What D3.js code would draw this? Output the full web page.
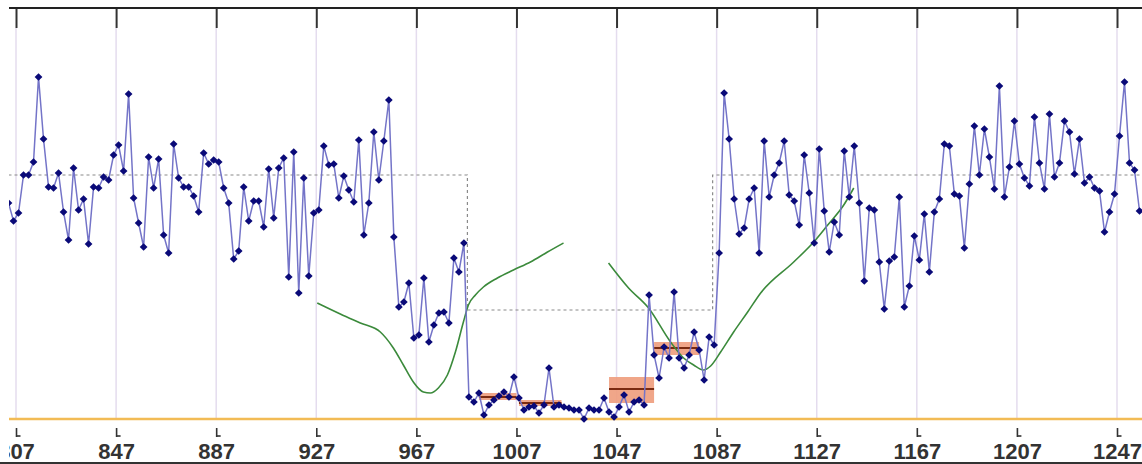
<!DOCTYPE html>
<html lang="en">
<head>
<meta charset="UTF-8">
<title>Series chart</title>
<script src="https://d3js.org/d3.v7.min.js"></script>
<style>
  body { margin: 0; background: #fff; }
  svg { display: block; }
</style>
</head>
<body>
<div id="chart"></div>
<script>
// tick labels along the day axis
var tickDays = [807, 847, 887, 927, 967, 1007, 1047, 1087, 1127, 1167, 1207, 1247];

// observed series: one value every 2 days, first one at day 804
var firstDay = 804, dayStep = 2;
var values = [
  21.6, 19.8, 20.6, 24.4, 24.4, 25.7, 34.2, 28.0, 23.2, 23.1,
  24.6, 20.7, 17.9, 25.1, 20.9, 22.0, 17.5, 23.2, 23.1, 24.2,
  23.9, 26.4, 27.4, 24.8, 32.5, 22.1, 19.6, 17.2, 26.2, 23.1,
  26.0, 18.4, 16.6, 27.5, 24.1, 23.2, 23.2, 22.3, 20.7, 26.6,
  25.5, 25.9, 25.7, 23.1, 21.6, 16.0, 16.8, 23.2, 19.8, 21.8,
  21.8, 19.2, 25.0, 20.1, 25.1, 26.1, 14.2, 26.7, 12.6, 24.1,
  14.3, 20.6, 20.9, 27.3, 25.4, 25.5, 22.1, 24.3, 22.9, 21.7,
  27.9, 18.4, 21.6, 28.7, 23.9,
  27.8, 31.9, 18.2, 11.2, 11.7, 13.6, 8.1, 8.4, 14.1, 7.7,
  9.4, 10.6, 10.7, 9.6, 16.1, 14.7, 17.6,
  2.2, 1.7, 2.6, 0.4, 1.4, 1.9, 2.3, 2.7, 2.2, 4.2,
  2.1, 0.9, 1.2, 1.3, 0.6, 1.4, 5.1, 1.2, 1.4, 1.2,
  1.1, 0.9, 0.9, 0.0, 1.1, 0.9, 0.9, 2.1, 0.7, 0.2,
  1.2, 2.4, 0.7, 1.7, 1.9, 1.4, 12.4, 6.4, 4.1, 7.2,
  6.1, 12.7, 6.1, 5.1, 6.4, 8.7, 6.9, 3.9, 8.2, 7.4,
  16.6, 32.6, 28.0, 22.0, 18.5, 19.1, 22.0, 23.1, 16.6,
  27.8, 22.2, 24.4, 25.6, 27.8, 22.4, 21.8, 19.4, 26.4, 22.6,
  17.6, 27.0, 20.8, 16.7, 19.7, 18.4, 26.8, 22.2, 27.3, 21.6,
  13.8, 21.1, 20.9, 15.7, 11.0, 15.8, 16.2, 22.2, 11.2, 13.3,
  18.3, 15.9, 20.5, 14.7, 20.7, 22.0, 27.5, 27.3, 22.5, 22.3,
  17.1, 23.5, 29.3, 24.4, 29.0, 26.2, 23.0, 33.3, 22.2, 25.2,
  29.8, 25.5, 24.1, 23.3, 30.2, 25.6, 23.0, 30.5, 24.2, 25.6,
  29.8, 28.7, 24.5, 28.0, 23.6, 24.2, 23.1, 22.8, 18.7, 20.7,
  22.5, 28.3, 33.7, 25.6, 24.9, 20.8
];

// dashed reference level (step line)
var refDays = [804, 987.4, 1085.4, 1257];
var refLevels = [24.4, 10.9, 24.4, 24.4];

// shaded segments with their mean line
var segStart = [992, 1008, 1044, 1062];
var segEnd = [1007, 1025, 1062, 1080];
var segLow = [1.9, 1.3, 1.6, 6.4];
var segHigh = [2.6, 1.9, 4.2, 7.7];
var segMean = [2.2, 1.6, 3.0, 7.1];

// green curves
var fitADays = [927.4, 936.6, 944.6, 952.6, 957.8, 961.8, 965.8, 969.8, 972.6, 975.8, 979.4,
                982.6, 985.8, 987.8, 990.6, 993.8, 999.4, 1005.8, 1012.6, 1019.4, 1025.8];
var fitAValues = [11.6, 10.5, 9.6, 8.7, 7.1, 5.4, 3.7, 2.7, 2.6, 3.1, 4.4,
                  6.7, 9.7, 11.4, 12.4, 13.2, 14.1, 14.9, 15.7, 16.7, 17.6];
var fitBDays = [1043.8, 1051.8, 1059.8, 1068.6, 1073.8, 1077.8, 1081.8, 1084.6, 1088.6,
                1093.8, 1099.4, 1104.6, 1117.8, 1125.8, 1131.4, 1137.8, 1141.8];
var fitBValues = [15.6, 13.1, 11.1, 7.7, 6.1, 5.4, 4.9, 5.3, 6.7,
                  8.7, 10.7, 12.6, 15.7, 17.7, 19.4, 21.4, 23.1];

var width = 1142, height = 464;

var x = d3.scaleLinear().domain([807, 1247]).range([16, 1117]);
var y = d3.scaleLinear().domain([0, 39.1]).range([419, 28]);

var svg = d3.select("#chart").append("svg")
    .attr("width", width)
    .attr("height", height);

svg.append("clipPath").attr("id", "clip")
  .append("rect").attr("x", 9).attr("y", 0).attr("width", width - 9).attr("height", height);

var g = svg.append("g").attr("clip-path", "url(#clip)");

// vertical grid lines
g.selectAll(".grid").data(tickDays).enter().append("line")
  .attr("x1", function(d) { return x(d); })
  .attr("x2", function(d) { return x(d); })
  .attr("y1", y(39.1)).attr("y2", y(0))
  .attr("stroke", "#e4dcee").attr("stroke-width", 1.5);

// top axis: long ticks hanging from the frame line, no labels
var topAxis = g.append("g").attr("transform", "translate(0,8)")
  .call(d3.axisBottom(x).tickValues(tickDays).tickSize(20).tickFormat("").tickSizeOuter(0));
topAxis.select(".domain").remove();
topAxis.selectAll(".tick line").attr("stroke", "#333").attr("stroke-width", 2);
g.append("line").attr("x1", 0).attr("x2", width).attr("y1", 8).attr("y2", 8)
  .attr("stroke", "#222").attr("stroke-width", 2);

// shaded segments
var segs = d3.range(segStart.length);
g.selectAll(".seg").data(segs).enter().append("rect")
  .attr("x", function(i) { return x(segStart[i]); })
  .attr("width", function(i) { return x(segEnd[i]) - x(segStart[i]); })
  .attr("y", function(i) { return y(segHigh[i]); })
  .attr("height", function(i) { return y(segLow[i]) - y(segHigh[i]); })
  .attr("fill", "#ee9c7c").attr("opacity", 0.9);
g.selectAll(".segmean").data(segs).enter().append("line")
  .attr("x1", function(i) { return x(segStart[i]); })
  .attr("x2", function(i) { return x(segEnd[i]); })
  .attr("y1", function(i) { return y(segMean[i]); })
  .attr("y2", function(i) { return y(segMean[i]); })
  .attr("stroke", "#7a2a10").attr("stroke-width", 2);

// dashed reference
var refPts = refDays.map(function(d, i) { return [d, refLevels[i]]; });
g.append("path").datum(refPts)
  .attr("d", d3.line().x(function(d) { return x(d[0]); }).y(function(d) { return y(d[1]); })
    .curve(d3.curveStepAfter))
  .attr("fill", "none").attr("stroke", "#8a8a8a").attr("stroke-width", 1.2)
  .attr("stroke-dasharray", "3,3");

// green curves
var fitLine = d3.line().x(function(d) { return x(d[0]); }).y(function(d) { return y(d[1]); })
  .curve(d3.curveMonotoneX);
[[fitADays, fitAValues], [fitBDays, fitBValues]].forEach(function(c) {
  var cp = c[0].map(function(d, i) { return [d, c[1][i]]; });
  g.append("path").datum(cp).attr("d", fitLine)
    .attr("fill", "none").attr("stroke", "#3b8a3b").attr("stroke-width", 1.6);
});

// orange baseline
g.append("line").attr("x1", 0).attr("x2", width)
  .attr("y1", y(0)).attr("y2", y(0))
  .attr("stroke", "#f2bb55").attr("stroke-width", 2.5);

// observed series
var pts = values.map(function(v, i) { return [firstDay + i * dayStep, v]; });
g.append("path").datum(pts)
  .attr("d", d3.line().x(function(d) { return x(d[0]); }).y(function(d) { return y(d[1]); }))
  .attr("fill", "none").attr("stroke", "#7474c8").attr("stroke-width", 1.5);

var marker = d3.symbol().type(d3.symbolSquare).size(30);
g.selectAll(".pt").data(pts).enter().append("path")
  .attr("d", marker)
  .attr("transform", function(d) { return "translate(" + x(d[0]) + "," + y(d[1]) + ") rotate(45)"; })
  .attr("fill", "#0a0a78");

// bottom axis: small hooked ticks and bold labels
var bottom = g.append("g").attr("transform", "translate(0,428)")
  .call(d3.axisBottom(x).tickValues(tickDays).tickSize(9).tickSizeOuter(0)
    .tickFormat(d3.format("d")));
bottom.select(".domain").remove();
bottom.selectAll(".tick line").attr("stroke", "#333").attr("stroke-width", 1.6);
bottom.selectAll(".tick").append("line")
  .attr("x1", 0).attr("x2", 4).attr("y1", 8).attr("y2", 8)
  .attr("stroke", "#333").attr("stroke-width", 1.6);
bottom.selectAll(".tick text")
  .attr("y", 31).attr("dy", null)
  .attr("fill", "#333")
  .style("font-family", "'Liberation Sans', Arial, sans-serif")
  .style("font-size", "22px")
  .style("font-weight", "bold");

// bottom frame line
svg.append("line").attr("x1", 0).attr("x2", width)
  .attr("y1", 463).attr("y2", 463)
  .attr("stroke", "#333").attr("stroke-width", 2);
</script>
</body>
</html>
